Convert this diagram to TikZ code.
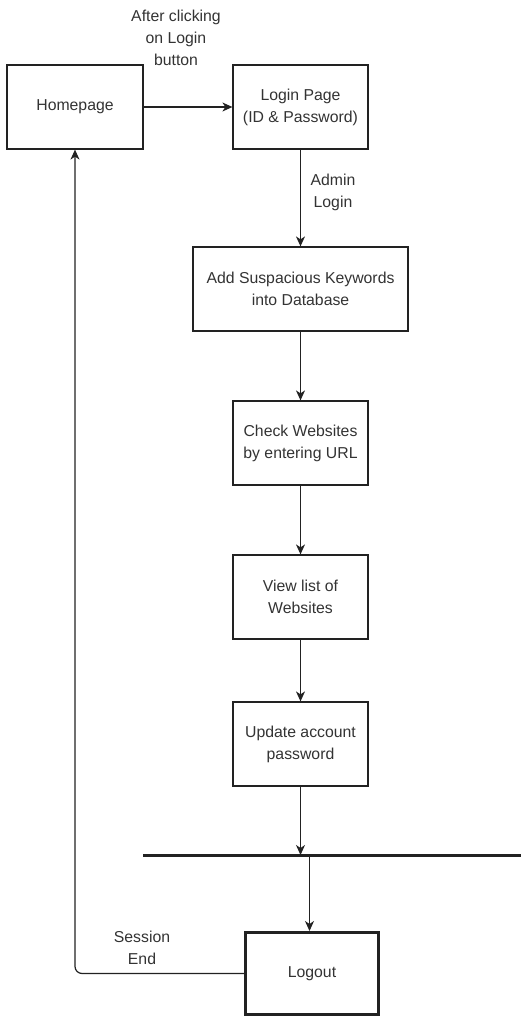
\documentclass[tikz,border=0pt]{standalone}
\usepackage{fontspec}
\setmainfont{Liberation Sans}
\usetikzlibrary{arrows.meta}
\definecolor{txt}{HTML}{333333}
\definecolor{ln}{HTML}{222222}
\begin{document}
\begin{tikzpicture}[x=1pt,y=-1pt,
  box/.style={draw=ln, line width=1.2pt, minimum width=135pt, minimum height=84pt, inner sep=0pt, align=center, text=txt, font=\fontsize{15.8}{22}\selectfont},
  lbl/.style={align=center, text=txt, inner sep=0pt, font=\fontsize{15.8}{22}\selectfont},
  arr/.style={draw=ln, line width=1.2pt, -{Stealth[length=10pt,width=9pt,inset=3pt]}}]
\useasboundingbox (0,0) rectangle (521,1016);
\node[box, minimum width=136pt] (home) at (75,107) {Homepage};
\node[box] (login) at (300.5,107) {Login Page\\(ID \& Password)};
\node[box, minimum width=215pt] (add) at (300.5,289) {Add Suspacious Keywords\\into Database};
\node[box] (check) at (300.5,443) {Check Websites\\by entering URL};
\node[box] (view) at (300.5,597) {View list of\\Websites};
\node[box] (update) at (300.5,744) {Update account\\password};
\node[box, line width=3pt, minimum width=133pt, minimum height=82pt] (logout) at (312,973.5) {Logout};
\coordinate (barL) at (143,855);
\coordinate (barR) at (521,855);
\coordinate (barIn) at (300.5,855);
\coordinate (barOut) at (309.5,855);
\draw[draw=ln, line width=3pt] (barL) -- (barR);
\node[lbl] (lab1) at (176,38) {After clicking\\on Login\\button};
\node[lbl] (lab2) at (333,192) {Admin\\Login};
\node[lbl] (lab3) at (142,948) {Session\\End};
\draw[arr] (home.east) -- (login.west);
\draw[arr] (login.south) -- (add.north);
\draw[arr] (add.south) -- (check.north);
\draw[arr] (check.south) -- (view.north);
\draw[arr] (view.south) -- (update.north);
\draw[arr] (update.south) -- (barIn);
\draw[arr] (barOut) -- (barOut |- logout.north);
\draw[arr, rounded corners=7pt] (logout.west) -| (home.south);
\end{tikzpicture}
\end{document}
